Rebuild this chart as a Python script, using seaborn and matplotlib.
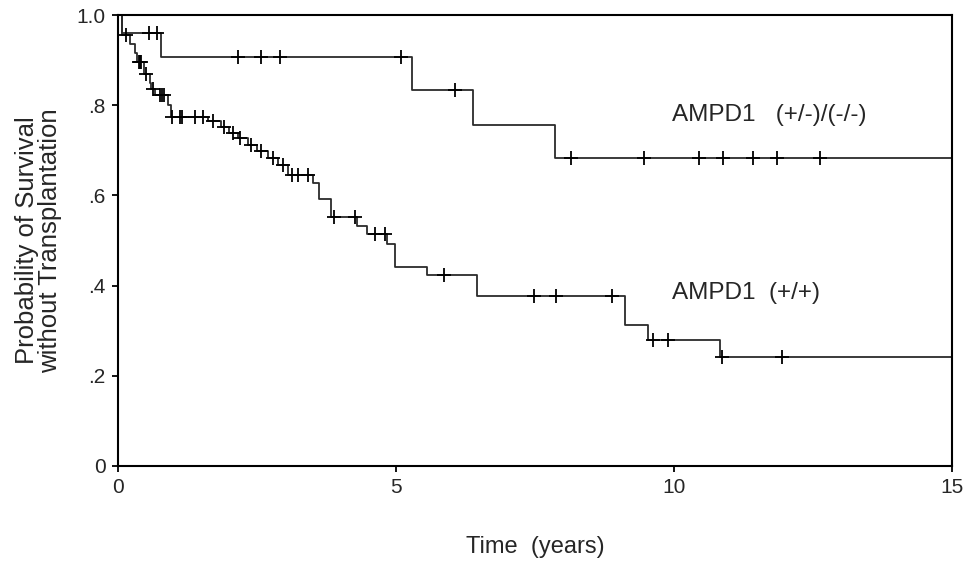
import numpy as np
import pandas as pd
import matplotlib
matplotlib.use("Agg")
import matplotlib.pyplot as plt
import seaborn as sns

# === Kaplan-Meier steps
# AMPD1 (+/-)/(-/-)
het_times = [0, 0.08, 0.77, 5.29, 6.39, 7.86, 15]
het_surv = [1.0, 0.96, 0.906, 0.834, 0.756, 0.682, 0.682]
het_censor = [0.56, 0.70, 2.16, 2.57, 2.91, 5.09, 6.06, 8.15, 9.46,
              10.45, 10.88, 11.42, 11.85, 12.63]

# AMPD1 (+/+)
wt_times = [0, 0.08, 0.22, 0.30, 0.35, 0.47, 0.57, 0.60, 0.66, 0.90, 0.95,
            1.62, 1.85, 2.00, 2.15, 2.33, 2.50, 2.70, 2.88, 3.05, 3.50, 3.62,
            3.83, 4.30, 4.48, 4.83, 4.98, 5.55, 6.45, 9.12, 9.53, 10.83, 15]
wt_surv = [1.0, 0.955, 0.935, 0.915, 0.895, 0.870, 0.850, 0.835, 0.822, 0.800, 0.773,
           0.764, 0.751, 0.738, 0.728, 0.712, 0.698, 0.684, 0.668, 0.645, 0.628, 0.591,
           0.551, 0.533, 0.515, 0.492, 0.442, 0.424, 0.378, 0.312, 0.279, 0.242, 0.242]
wt_censor = [0.14, 0.38, 0.40, 0.42, 0.50, 0.63, 0.76, 0.80, 0.83, 0.97, 1.12, 1.15,
             1.38, 1.53, 1.70, 1.90, 2.06, 2.20, 2.40, 2.57, 2.78, 2.96, 3.13, 3.24,
             3.42, 3.88, 4.26, 4.62, 4.80, 5.87, 7.48, 7.88, 8.88, 9.62, 9.90, 10.86,
             11.94]

labels = ["AMPD1   (+/-)/(-/-)", "AMPD1  (+/+)"]


def censor_frame(times, surv, censor):
    # survival level at each censoring time, taken from the step function
    idx = np.searchsorted(times, censor, side="right") - 1
    return pd.DataFrame({"time": censor, "surv": np.asarray(surv)[idx]})


sns.set_style("ticks")
plt.rcParams["font.family"] = ["Liberation Sans", "DejaVu Sans"]

fig = plt.figure(figsize=(9.72, 5.64), dpi=100)
ax = fig.add_axes([0.1214, 0.1738, 0.858, 0.7996])

line_col = "#2b2b2b"
for times, surv, censor in [(het_times, het_surv, het_censor),
                            (wt_times, wt_surv, wt_censor)]:
    steps = pd.DataFrame({"time": times, "surv": surv})
    sns.lineplot(data=steps, x="time", y="surv", ax=ax, color=line_col,
                 linewidth=1.3, drawstyle="steps-post", estimator=None)
    cens = censor_frame(times, surv, censor)
    sns.scatterplot(data=cens, x="time", y="surv", ax=ax, marker="+",
                    s=110, color="black", linewidth=1.3, zorder=3)

ax.text(9.96, 0.778, labels[0], fontsize=17.5, va="center", ha="left")
ax.text(9.96, 0.384, labels[1], fontsize=17.5, va="center", ha="left")

ax.set_xlim(0, 15)
ax.set_ylim(0, 1.0)
ax.set_xticks([0, 5, 10, 15])
ax.set_xticklabels(["0", "5", "10", "15"], fontsize=15)
ax.set_yticks([0, 0.2, 0.4, 0.6, 0.8, 1.0])
ax.set_yticklabels(["0", ".2", ".4", ".6", ".8", "1.0"], fontsize=15)
ax.tick_params(length=4, width=1.3, color="black", pad=5)

for sp in ax.spines.values():
    sp.set_linewidth(1.5)
    sp.set_color("black")

ax.set_xlabel("Time  (years)", fontsize=17, labelpad=28)
ax.set_ylabel("Probability of Survival\nwithout Transplantation", fontsize=18.5,
              linespacing=0.95, labelpad=10)

fig.savefig("out.png", dpi=100)
